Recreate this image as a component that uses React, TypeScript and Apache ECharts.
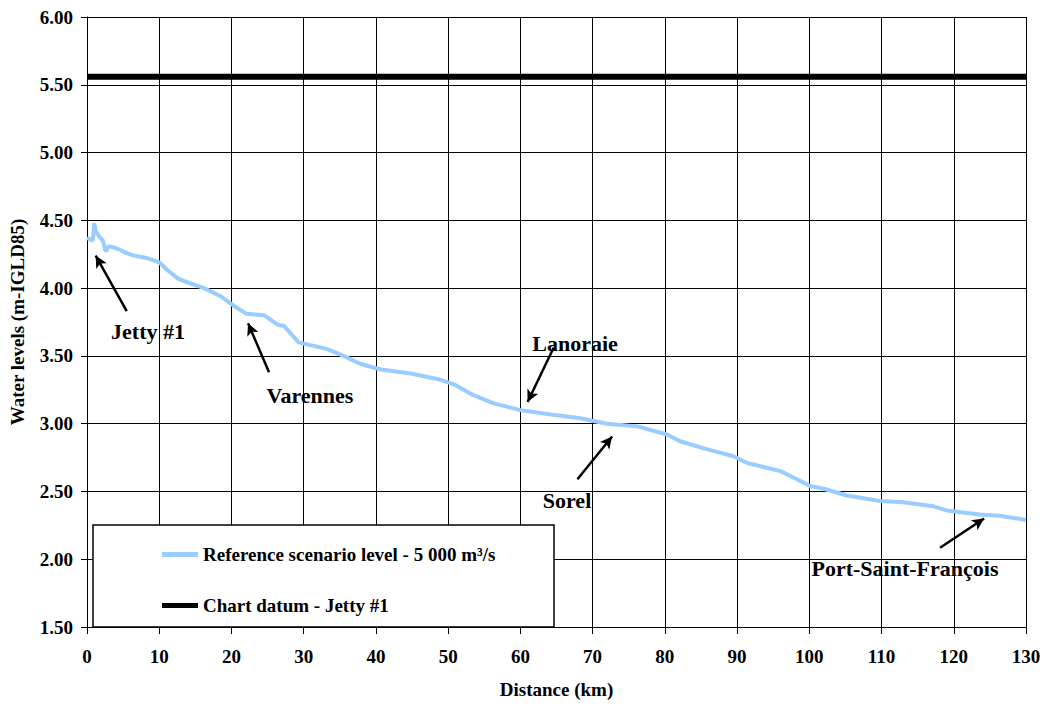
import React, { useEffect, useRef } from "react";
import * as echarts from "echarts";

const distanceKm = [0, 0.8, 1.0, 1.2, 1.7, 2.2, 2.6, 3.0, 3.7, 4.7, 5.4, 6.5, 8.4, 10, 11.2, 12.6, 14, 16.2, 18.5, 20.3, 22.1, 24.5, 26.4, 27.3, 29.3, 33.3, 35.5, 37.9, 40.7, 44.8, 48.5, 50.8, 53.5, 56.3, 60, 64, 68.3, 72, 76.2, 80.3, 82.1, 85.9, 89.5, 91.4, 96, 98.3, 100.1, 102, 105.2, 109.8, 113, 117.2, 119, 123.6, 126.4, 130];
const referenceLevel = [4.37, 4.35, 4.48, 4.42, 4.38, 4.35, 4.27, 4.31, 4.30, 4.28, 4.26, 4.24, 4.22, 4.19, 4.13, 4.07, 4.04, 4.00, 3.94, 3.87, 3.81, 3.80, 3.73, 3.72, 3.60, 3.55, 3.50, 3.44, 3.40, 3.37, 3.33, 3.29, 3.21, 3.15, 3.10, 3.07, 3.04, 3.00, 2.98, 2.92, 2.87, 2.81, 2.76, 2.71, 2.65, 2.59, 2.54, 2.52, 2.47, 2.43, 2.42, 2.39, 2.36, 2.33, 2.32, 2.29];
const chartDatum = 5.56;
const datumRange = [0, 130];

const seriesNames = ["Reference scenario level - 5 000 m³/s", "Chart datum - Jetty #1"];

// annotation arrows: [tailKm, tailLevel, headKm, headLevel]
const arrows = [
  [5.5, 3.83, 1.2, 4.24],
  [25.2, 3.38, 22.3, 3.74],
  [64.6, 3.56, 61.0, 3.16],
  [67.9, 2.59, 72.7, 2.905],
  [118.1, 2.085, 124.2, 2.30],
];
const placeNames = ["Jetty #1", "Varennes", "Lanoraie", "Sorel", "Port-Saint-François"];
const placeLabelPos = [
  [148, 331],
  [310, 395],
  [575, 343],
  [567, 500],
  [905, 568],
];

const FONT = "'Liberation Serif', 'Times New Roman', serif";

export default function App() {
  const ref = useRef<HTMLDivElement>(null);
  useEffect(() => {
    if (!ref.current) return;
    const chart = echarts.init(ref.current, undefined, { renderer: "svg" });
    const textBase = { fontFamily: FONT, fontWeight: "bold" as const, color: "#000" };
    chart.setOption({
      animation: false,
      backgroundColor: "#fff",
      grid: { left: 86, top: 17, width: 940, height: 615, containLabel: false },
      xAxis: {
        type: "value",
        min: 0,
        max: 130,
        interval: 10,
        name: "Distance (km)",
        nameLocation: "middle",
        nameGap: 53,
        nameTextStyle: { ...textBase, fontSize: 19 },
        axisLine: { show: true, lineStyle: { color: "#000", width: 1 } },
        axisTick: { show: true, inside: false, length: 7, lineStyle: { color: "#000" } },
        axisLabel: { ...textBase, fontSize: 19, margin: 20 },
        splitLine: { show: true, lineStyle: { color: "#000", width: 1 } },
      },
      yAxis: {
        type: "value",
        min: 1.5,
        max: 6.0,
        interval: 0.5,
        name: "Water levels (m-IGLD85)",
        nameLocation: "middle",
        nameGap: 60,
        nameTextStyle: { ...textBase, fontSize: 19 },
        axisLine: { show: true, lineStyle: { color: "#000", width: 1 } },
        axisTick: { show: true, inside: false, length: 6, lineStyle: { color: "#000" } },
        axisLabel: { ...textBase, fontSize: 19, margin: 14, formatter: (v: number) => v.toFixed(2) },
        splitLine: { show: true, lineStyle: { color: "#000", width: 1 } },
      },
      legend: [
        {
          data: [seriesNames[0]],
          left: 157,
          top: 540,
          icon: "rect",
          itemWidth: 36,
          itemHeight: 5,
          itemGap: 2,
          z: 20,
          textStyle: { ...textBase, fontSize: 19 },
        },
        {
          data: [seriesNames[1]],
          left: 157,
          top: 591,
          icon: "rect",
          itemWidth: 36,
          itemHeight: 5,
          itemGap: 2,
          z: 20,
          textStyle: { ...textBase, fontSize: 19 },
        },
      ],
      graphic: [
        {
          type: "rect",
          shape: { x: 93, y: 525, width: 461, height: 102 },
          style: { fill: "#fff", stroke: "#000", lineWidth: 1.5 },
          z: 5,
        },
        ...placeNames.map((name, i) => ({
          type: "text",
          x: placeLabelPos[i][0],
          y: placeLabelPos[i][1],
          z: 15,
          style: {
            text: name,
            fontFamily: FONT,
            fontWeight: "bold",
            fontSize: 22,
            fill: "#000",
            align: "center",
            verticalAlign: "middle",
          },
        })),
      ],
      series: [
        {
          name: seriesNames[0],
          type: "line",
          data: distanceKm.map((d, i) => [d, referenceLevel[i]]),
          showSymbol: false,
          symbol: "none",
          lineStyle: { color: "#99CCFF", width: 4 },
          itemStyle: { color: "#99CCFF" },
          z: 3,
          markLine: {
            silent: true,
            symbol: ["none", "arrow"],
            symbolSize: [9, 12],
            label: { show: false },
            lineStyle: { color: "#000", width: 2.5, type: "solid" },
            data: arrows.map((a) => [
              { coord: [a[0], a[1]] },
              { coord: [a[2], a[3]] },
            ]),
          },
        },
        {
          name: seriesNames[1],
          type: "line",
          data: datumRange.map((d) => [d, chartDatum]),
          showSymbol: false,
          symbol: "none",
          lineStyle: { color: "#000", width: 6 },
          itemStyle: { color: "#000" },
          z: 4,
        },
      ],
    });
    return () => chart.dispose();
  }, []);
  return (
    <div
      ref={ref}
      style={{ position: "fixed", left: 0, top: 0, width: 1044, height: 704 }}
    />
  );
}
